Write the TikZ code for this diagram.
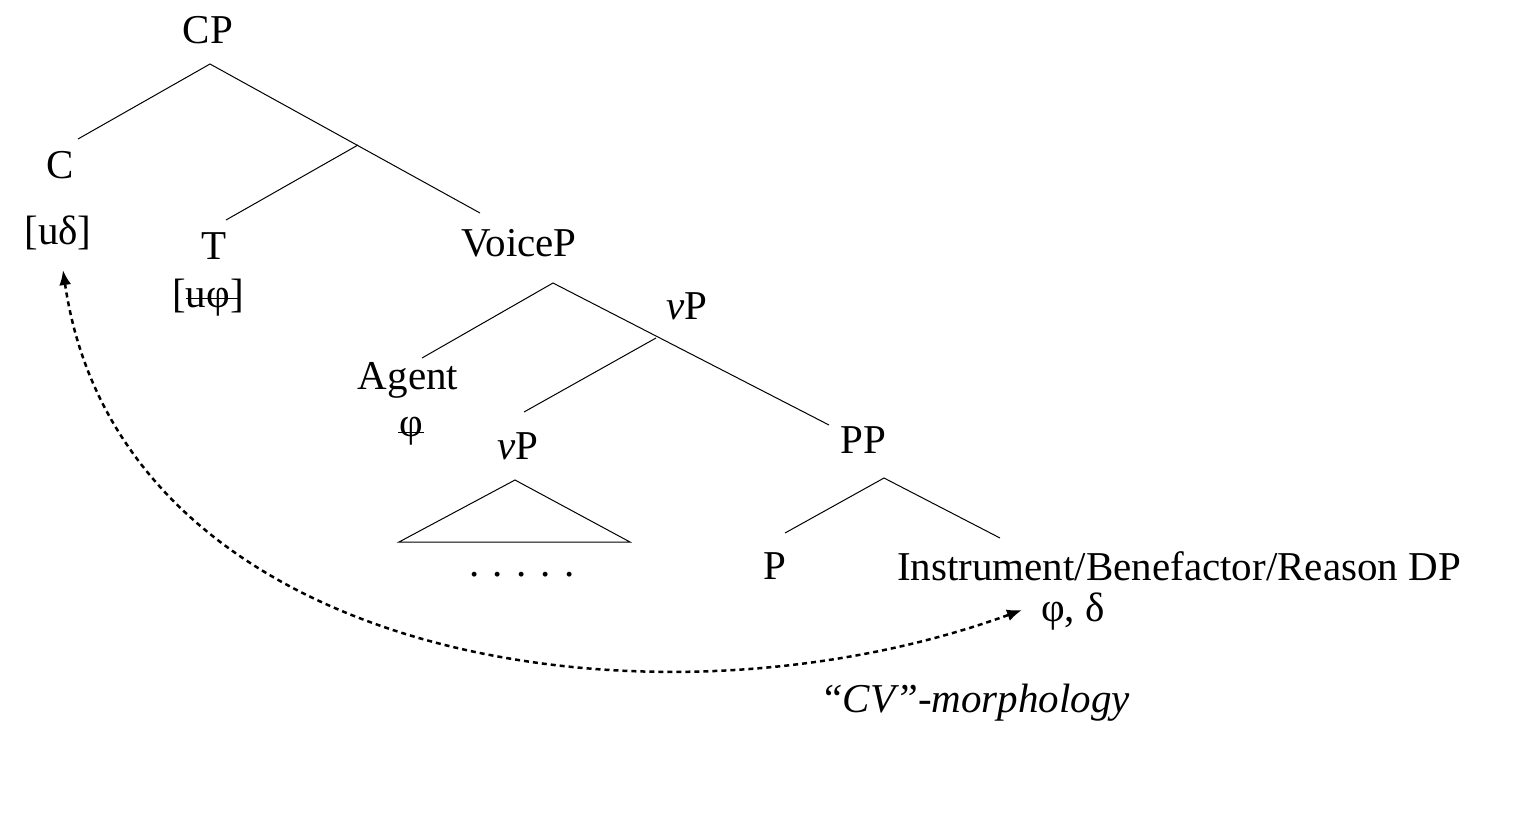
\documentclass[tikz,border=0pt]{standalone}
\usepackage{fontspec}
\setmainfont{Liberation Serif}
\usetikzlibrary{arrows.meta}
\begin{document}
\begin{tikzpicture}[x=1pt,y=-1pt,
  lab/.style={inner sep=0pt,font=\fontsize{41}{48}\selectfont},
  br/.style={line width=1pt}]
\useasboundingbox (0,0) rectangle (1526,831);
\node[lab] (CP) at (208,30) {CP};
\node[lab] (C) at (60,165) {C};
\node[lab] (Cf) at (58,233) {[uδ]};
\node[lab] (T) at (214,246) {T};
\node[lab] (Tf) at (208,298) {[uφ]};
\node[lab] (VoiceP) at (519,243) {VoiceP};
\node[lab] (vP1) at (687,306) {\textit{v}P};
\node[lab] (Agent) at (408,380) {Agent};
\node[lab] (Af) at (411,431) {φ};
\node[lab] (vP2) at (518,446) {\textit{v}P};
\node[lab] (PP) at (863,440) {PP};
\node[lab] (dots) at (522,575) {.\,\,.\,\,.\,\,.\,\,.};
\node[lab] (P) at (775,566) {P};
\node[lab] (DP) at (1179,566) {Instrument/Benefactor/Reason DP};
\node[lab] (DPf) at (1073,612) {φ, δ};
\node[lab,font=\fontsize{41}{48}\selectfont\itshape] (CV) at (975,703) {``CV''-morphology};
% strikes
\draw[line width=1pt] (186,298) -- (240,298);
\draw[line width=1pt] (398,432) -- (424,432);
% coordinates
\coordinate (cp0) at (210,64);
\coordinate (cL) at (78,139);
\coordinate (tp) at (358,145);
\coordinate (tR) at (480,213);
\coordinate (tL) at (226,220);
\coordinate (vo0) at (553,283);
\coordinate (agT) at (422,358);
\coordinate (vb) at (656,338);
\coordinate (ppT) at (829,425);
\coordinate (vL) at (524,412);
\coordinate (pp0) at (884,478);
\coordinate (pT) at (785,533);
\coordinate (dpT) at (1000,538);
\coordinate (apex) at (515,480);
\coordinate (bl) at (399,542);
\coordinate (bR) at (630,542);
\draw[br] (cL) -- (cp0) -- (tR);
\draw[br] (tp) -- (tL);
\draw[br] (agT) -- (vo0) -- (ppT);
\draw[br] (vb) -- (vL);
\draw[br] (pT) -- (pp0) -- (dpT);
\draw[br] (apex) -- (bl) -- (bR) -- cycle;
\coordinate (s) at (63,270);
\coordinate (e) at (1022,610);
\draw[line width=2.5pt,dash pattern=on 5pt off 4pt,{Latex[length=15pt,width=12pt]}-{Latex[length=15pt,width=12pt]}]
  (s) .. controls (120,660) and (650,745) .. (e);
\end{tikzpicture}
\end{document}
